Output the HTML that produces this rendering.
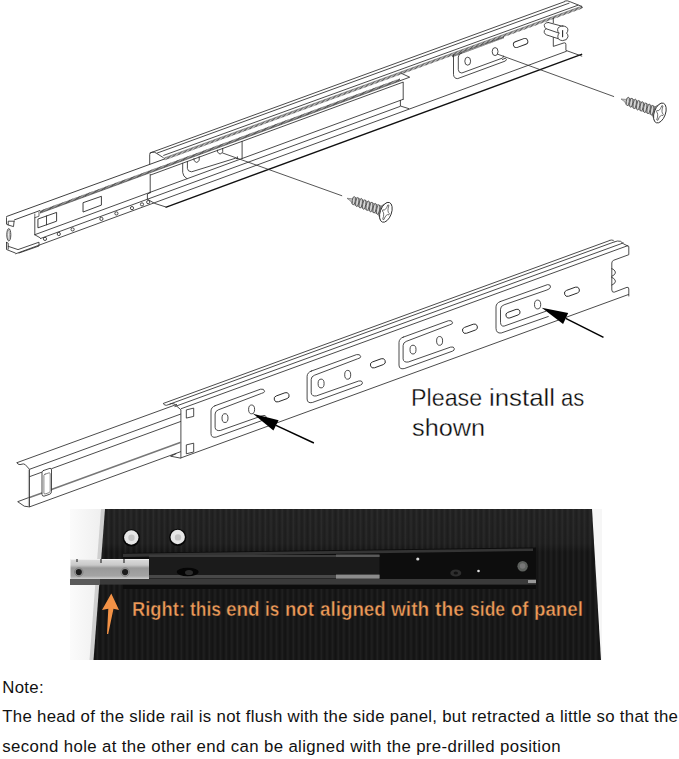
<!DOCTYPE html>
<html><head><meta charset="utf-8"><title>Slide rail install</title>
<style>
html,body{margin:0;padding:0;background:#fff;}
body{width:679px;height:759px;position:relative;overflow:hidden;font-family:"Liberation Sans",sans-serif;}
#art{position:absolute;left:0;top:0;}
.t{position:absolute;white-space:nowrap;color:#111;}
#pls{left:411.5px;top:382.6px;font-size:24.6px;line-height:30.4px;color:#0a0a0a;-webkit-text-stroke:0.32px #fff;}
#photo{position:absolute;left:70px;top:509px;width:532px;height:151px;overflow:hidden;background:#f2f2f2;}
#n1,#n2,#n3{left:2.3px;font-size:16.8px;letter-spacing:0.30px;}
#n1{top:678.1px;} #n2{top:706.8px;} #n3{top:736.8px;letter-spacing:0.38px;}
</style></head><body>
<svg id="art" width="679" height="759" viewBox="0 0 679 759">
<line x1="149.7" y1="153.1" x2="565.0" y2="1.5" stroke="#2a2a2a" stroke-width="0.85" />
<line x1="156.8" y1="153.2" x2="569.5" y2="3.0" stroke="#2a2a2a" stroke-width="0.85" />
<line x1="163.3" y1="155.5" x2="578.3" y2="5.1" stroke="#2a2a2a" stroke-width="0.85" />
<line x1="6.3" y1="216.6" x2="164.5" y2="159.0" stroke="#2a2a2a" stroke-width="0.9" />
<line x1="164.5" y1="159.1" x2="582.0" y2="7.3" stroke="#333" stroke-width="2.4" stroke-dasharray="0.7 0.6"/>
<line x1="164.5" y1="157.8" x2="582.0" y2="6.0" stroke="#555" stroke-width="0.5" />
<line x1="40.0" y1="211.9" x2="400.4" y2="79.5" stroke="#1a1a1a" stroke-width="2.3" stroke-dasharray="0.7 0.5"/>
<line x1="40.0" y1="213.2" x2="400.4" y2="80.8" stroke="#333" stroke-width="0.6" />
<line x1="14.1" y1="220.0" x2="40.0" y2="210.5" stroke="#2a2a2a" stroke-width="0.9" />
<line x1="150.3" y1="175.1" x2="403.2" y2="82.1" stroke="#2a2a2a" stroke-width="0.85" />
<line x1="34.8" y1="234.7" x2="403.2" y2="99.3" stroke="#2a2a2a" stroke-width="0.85" />
<line x1="40.0" y1="238.7" x2="400.4" y2="106.3" stroke="#2a2a2a" stroke-width="0.85" />
<line x1="15.3" y1="253.9" x2="566.7" y2="51.2" stroke="#2a2a2a" stroke-width="0.85" />
<line x1="165.6" y1="207.3" x2="582.2" y2="54.2" stroke="#111" stroke-width="1.35" />
<line x1="452.0" y1="56.4" x2="504.0" y2="37.3" stroke="#222" stroke-width="1.8" stroke-dasharray="0.6 0.45"/>
<path d="M149.7 163.9 L149.7 154.5 Q149.7 152.6 152 152.2 Q155 151.8 156.8 153.5 L163.3 157.6 M150.2 174.3 L150.2 192.7" stroke="#2a2a2a" stroke-width="0.85" fill="none" stroke-linejoin="round" stroke-linecap="round" />
<path d="M150.3 192.7 L147.4 194.0 L147.4 199.2 L154.4 203.3 L165.6 206.9" stroke="#2a2a2a" stroke-width="0.85" fill="none" stroke-linejoin="round" stroke-linecap="round" />
<path d="M182.7 163.3 L182.7 172.5 Q183 176.5 186.8 178.6" stroke="#2a2a2a" stroke-width="0.85" fill="none" stroke-linejoin="round" stroke-linecap="round" />
<path d="M187.4 161.5 L187.4 168.5 Q187.6 171.6 191.6 171.8 L235.6 158.2 L237.4 159 L237.4 156.8" stroke="#2a2a2a" stroke-width="0.85" fill="none" stroke-linejoin="round" stroke-linecap="round" />
<path d="M194.0 158.6 L194.0 160.2 Q196.6 164.6 199.2 160.2 L199.2 156.8" stroke="#2a2a2a" stroke-width="0.85" fill="none" stroke-linejoin="round" stroke-linecap="round" />
<path d="M217.5 150.2 L217.5 151.8 Q220.1 156.2 222.7 151.8 L222.7 148.4" stroke="#2a2a2a" stroke-width="0.85" fill="none" stroke-linejoin="round" stroke-linecap="round" />
<path d="M242.1 141.4 L242.1 158.5" stroke="#2a2a2a" stroke-width="0.85" fill="none" stroke-linejoin="round" stroke-linecap="round" />
<path d="M222.6 153.0 L341.8 195.7" stroke="#2a2a2a" stroke-width="0.8" fill="none" stroke-linejoin="round" stroke-linecap="round" />
<path d="M403.2 82.3 L403.2 99.5" stroke="#2a2a2a" stroke-width="0.85" fill="none" stroke-linejoin="round" stroke-linecap="round" />
<path d="M400.4 100.4 L400.4 106.0 L408.7 108.6" stroke="#2a2a2a" stroke-width="0.85" fill="none" stroke-linejoin="round" stroke-linecap="round" />
<path d="M401.5 73.4 L409.7 77.2 L400.4 80.6" stroke="#2a2a2a" stroke-width="0.85" fill="none" stroke-linejoin="round" stroke-linecap="round" />
<path d="M453.5 54.8 L453.5 74.5 Q453.8 78.6 457.7 78.6 L505.4 61.0 Q507.5 59.6 505.4 58.2 L502.4 59.5" stroke="#2a2a2a" stroke-width="0.85" fill="none" stroke-linejoin="round" stroke-linecap="round" />
<path d="M462 52.6 Q458.3 54 458.3 57.1 L458.3 69.7 Q458.6 73 461.8 73 L502.4 58.1 Q504 57 503.5 56" stroke="#2a2a2a" stroke-width="0.85" fill="none" stroke-linejoin="round" stroke-linecap="round" />
<ellipse cx="467.7" cy="61.2" rx="2.9" ry="4" transform="rotate(0 467.7 61.2)" stroke="#2a2a2a" stroke-width="0.85" fill="none"/>
<ellipse cx="495.1" cy="51.6" rx="2.9" ry="4" transform="rotate(0 495.1 51.6)" stroke="#2a2a2a" stroke-width="0.85" fill="none"/>
<rect x="513.1" y="40.0" width="15" height="6" rx="3.0" ry="3.0" transform="rotate(-20.2 520.6 43.0)" stroke="#2a2a2a" stroke-width="0.9" fill="none"/>
<path d="M497.7 54.2 L613.7 96.5" stroke="#2a2a2a" stroke-width="0.8" fill="none" stroke-linejoin="round" stroke-linecap="round" />
<path d="M565 1.0 Q567.6 0.4 569.2 1.4 L581.8 6.4 L582.3 7.6" stroke="#2a2a2a" stroke-width="0.85" fill="none" stroke-linejoin="round" stroke-linecap="round" />
<path d="M553.3 18.1 L553.3 22.8" stroke="#2a2a2a" stroke-width="0.85" fill="none" stroke-linejoin="round" stroke-linecap="round" />
<path d="M553.3 37.5 L553.3 46.4 L564.2 42.8 Q565.9 42.6 565.9 44.4 L565.9 50.4 L581.8 56.1" stroke="#2a2a2a" stroke-width="0.85" fill="none" stroke-linejoin="round" stroke-linecap="round" />
<path d="M548.3 22.5 Q544 22.8 544.3 25.6 Q544.6 27.6 546 28.7 Q543.6 30.6 544.2 32.4 Q544.8 34.2 546.5 34.9 L558.9 38.9 M548.3 22.5 L562.4 26.3 M546 28.7 L558.9 33.1" stroke="#2a2a2a" stroke-width="0.85" fill="none" stroke-linejoin="round" stroke-linecap="round" />
<path d="M562.8 26 Q567.6 26.2 567.9 29.8 Q567.8 32 566.6 33.1 Q568.2 34.6 568 36.8 Q567.2 40.6 562.6 40.6 Q558 40.2 557.8 36.8 Q557.8 34.6 559.2 33.1 Q557.4 31.6 557.6 29.6 Q558 26.2 562.8 26 Z" stroke="#2a2a2a" stroke-width="0.85" fill="#fff" stroke-linejoin="round" stroke-linecap="round" />
<path d="M562.6 30.5 L562.6 36.7" stroke="#2a2a2a" stroke-width="1.1" fill="none" stroke-linejoin="round" stroke-linecap="round" />
<path d="M6.5 217.7 L6.5 224.2 L8.2 225 L8.2 221.2 L14.1 221.2 M8.2 225 L13.5 226.6 L14.1 221.2 M6.5 242.4 L6.5 249.5 L15.3 253 M6.5 242.4 L8.2 243.2 L8.2 246.3 L18 249.6 L39 242.2 L39 246 L19 253 M8.2 246.3 L8.2 249" stroke="#2a2a2a" stroke-width="0.85" fill="none" stroke-linejoin="round" stroke-linecap="round" />
<ellipse cx="8.8" cy="234.8" rx="2.0" ry="6.2" transform="rotate(0 8.8 234.8)" stroke="#2a2a2a" stroke-width="0.85" fill="none"/>
<ellipse cx="8.6" cy="234.8" rx="0.9" ry="4.8" transform="rotate(0 8.6 234.8)" stroke="#777" stroke-width="0.6" fill="none"/>
<path d="M34.8 217.7 L34.8 234.8" stroke="#2a2a2a" stroke-width="0.85" fill="none" stroke-linejoin="round" stroke-linecap="round" />
<path d="M34.8 214.0 L34.8 217.7 L39.0 216.2 L39.0 212.4" stroke="#2a2a2a" stroke-width="0.7" fill="none" stroke-linejoin="round" stroke-linecap="round" />
<path d="M38.3 218.9 L56.6 212.4 L56.6 221.2 L38.3 227.7 Z" stroke="#2a2a2a" stroke-width="0.9" fill="none" stroke-linejoin="round" stroke-linecap="round" />
<path d="M46.5 216.0 L46.5 224.8" stroke="#2a2a2a" stroke-width="0.85" fill="none" stroke-linejoin="round" stroke-linecap="round" />
<path d="M83.4 202.6 L101.4 196.3 L101.4 205.1 L83.4 211.9 Z" stroke="#2a2a2a" stroke-width="0.9" fill="none" stroke-linejoin="round" stroke-linecap="round" />
<path d="M34.8 234.8 L40.0 237.7" stroke="#2a2a2a" stroke-width="0.85" fill="none" stroke-linejoin="round" stroke-linecap="round" />
<ellipse cx="45.0" cy="238.9" rx="1.6" ry="1.6" transform="rotate(0 45.0 238.9)" stroke="#2a2a2a" stroke-width="0.85" fill="none"/>
<ellipse cx="58.8" cy="234.0" rx="1.6" ry="1.6" transform="rotate(0 58.8 234.0)" stroke="#2a2a2a" stroke-width="0.85" fill="none"/>
<ellipse cx="72.6" cy="229.4" rx="1.6" ry="1.6" transform="rotate(0 72.6 229.4)" stroke="#2a2a2a" stroke-width="0.85" fill="none"/>
<ellipse cx="101.4" cy="218.9" rx="1.6" ry="1.6" transform="rotate(0 101.4 218.9)" stroke="#2a2a2a" stroke-width="0.85" fill="none"/>
<ellipse cx="116.4" cy="213.4" rx="1.6" ry="1.6" transform="rotate(0 116.4 213.4)" stroke="#2a2a2a" stroke-width="0.85" fill="none"/>
<ellipse cx="132.0" cy="208.1" rx="1.6" ry="1.6" transform="rotate(0 132.0 208.1)" stroke="#2a2a2a" stroke-width="0.85" fill="none"/>
<ellipse cx="142.0" cy="204.4" rx="1.6" ry="1.6" transform="rotate(0 142.0 204.4)" stroke="#2a2a2a" stroke-width="0.85" fill="none"/>
<ellipse cx="148.2" cy="202.1" rx="1.6" ry="1.6" transform="rotate(0 148.2 202.1)" stroke="#2a2a2a" stroke-width="0.85" fill="none"/>
<g transform="translate(621.0 99.0) rotate(19.8)"><path d="M0 0 L4.5 -1.2 L7 -3.6 L35 -4.4 L35 4.4 L7 3.6 L4.5 1.4 Z" fill="#c4c4c4" stroke="#555" stroke-width="0.5"/><ellipse cx="7.2" cy="0" rx="1.5" ry="4.2" transform="rotate(-12 7.2 0)" fill="#d8d8d8" stroke="#3a3a3a" stroke-width="0.75"/><ellipse cx="10.9" cy="0" rx="1.5" ry="4.5" transform="rotate(-12 10.9 0)" fill="#d8d8d8" stroke="#3a3a3a" stroke-width="0.75"/><ellipse cx="14.6" cy="0" rx="1.5" ry="4.8" transform="rotate(-12 14.6 0)" fill="#d8d8d8" stroke="#3a3a3a" stroke-width="0.75"/><ellipse cx="18.3" cy="0" rx="1.5" ry="4.8" transform="rotate(-12 18.3 0)" fill="#d8d8d8" stroke="#3a3a3a" stroke-width="0.75"/><ellipse cx="22.0" cy="0" rx="1.5" ry="4.8" transform="rotate(-12 22.0 0)" fill="#d8d8d8" stroke="#3a3a3a" stroke-width="0.75"/><ellipse cx="25.7" cy="0" rx="1.5" ry="4.8" transform="rotate(-12 25.7 0)" fill="#d8d8d8" stroke="#3a3a3a" stroke-width="0.75"/><ellipse cx="29.4" cy="0" rx="1.5" ry="4.8" transform="rotate(-12 29.4 0)" fill="#d8d8d8" stroke="#3a3a3a" stroke-width="0.75"/><ellipse cx="33.1" cy="0" rx="1.5" ry="4.8" transform="rotate(-12 33.1 0)" fill="#d8d8d8" stroke="#3a3a3a" stroke-width="0.75"/><path d="M35 -4.6 L39.5 -9.6 L39.5 9.6 L35 4.6 Z" fill="#bdbdbd" stroke="#444" stroke-width="0.6"/><ellipse cx="41.3" cy="0" rx="5.6" ry="10.4" fill="#fff" stroke="#333" stroke-width="0.9"/><path d="M40.7 -7.6 L41.9 -7.6 Q41.9 -0.9 45 0.1 L45 1.4 Q42 0.9 41.9 7.6 L40.7 7.6 Q40.6 1.0 37.6 0 L37.6 -1.3 Q40.6 -0.8 40.7 -7.6 Z" fill="#fff" stroke="#444" stroke-width="0.7" stroke-linejoin="round"/></g>
<g transform="translate(347.0 198.3) rotate(19.8)"><path d="M0 0 L4.5 -1.2 L7 -3.6 L35 -4.4 L35 4.4 L7 3.6 L4.5 1.4 Z" fill="#c4c4c4" stroke="#555" stroke-width="0.5"/><ellipse cx="7.2" cy="0" rx="1.5" ry="4.2" transform="rotate(-12 7.2 0)" fill="#d8d8d8" stroke="#3a3a3a" stroke-width="0.75"/><ellipse cx="10.9" cy="0" rx="1.5" ry="4.5" transform="rotate(-12 10.9 0)" fill="#d8d8d8" stroke="#3a3a3a" stroke-width="0.75"/><ellipse cx="14.6" cy="0" rx="1.5" ry="4.8" transform="rotate(-12 14.6 0)" fill="#d8d8d8" stroke="#3a3a3a" stroke-width="0.75"/><ellipse cx="18.3" cy="0" rx="1.5" ry="4.8" transform="rotate(-12 18.3 0)" fill="#d8d8d8" stroke="#3a3a3a" stroke-width="0.75"/><ellipse cx="22.0" cy="0" rx="1.5" ry="4.8" transform="rotate(-12 22.0 0)" fill="#d8d8d8" stroke="#3a3a3a" stroke-width="0.75"/><ellipse cx="25.7" cy="0" rx="1.5" ry="4.8" transform="rotate(-12 25.7 0)" fill="#d8d8d8" stroke="#3a3a3a" stroke-width="0.75"/><ellipse cx="29.4" cy="0" rx="1.5" ry="4.8" transform="rotate(-12 29.4 0)" fill="#d8d8d8" stroke="#3a3a3a" stroke-width="0.75"/><ellipse cx="33.1" cy="0" rx="1.5" ry="4.8" transform="rotate(-12 33.1 0)" fill="#d8d8d8" stroke="#3a3a3a" stroke-width="0.75"/><path d="M35 -4.6 L39.5 -9.6 L39.5 9.6 L35 4.6 Z" fill="#bdbdbd" stroke="#444" stroke-width="0.6"/><ellipse cx="41.3" cy="0" rx="5.6" ry="10.4" fill="#fff" stroke="#333" stroke-width="0.9"/><path d="M40.7 -7.6 L41.9 -7.6 Q41.9 -0.9 45 0.1 L45 1.4 Q42 0.9 41.9 7.6 L40.7 7.6 Q40.6 1.0 37.6 0 L37.6 -1.3 Q40.6 -0.8 40.7 -7.6 Z" fill="#fff" stroke="#444" stroke-width="0.7" stroke-linejoin="round"/></g>
<line x1="163.4" y1="403.4" x2="609.7" y2="240.5" stroke="#2a2a2a" stroke-width="0.85" />
<line x1="169.5" y1="404.2" x2="614.3" y2="241.9" stroke="#2a2a2a" stroke-width="0.85" />
<line x1="174.5" y1="406.7" x2="623.6" y2="242.8" stroke="#2a2a2a" stroke-width="0.85" />
<line x1="180.9" y1="408.8" x2="628.2" y2="245.5" stroke="#2a2a2a" stroke-width="0.85" />
<line x1="180.9" y1="457.9" x2="628.8" y2="294.4" stroke="#2a2a2a" stroke-width="0.85" />
<path d="M163.4 403.6 Q164 405.6 166.5 405.3 L171.5 403.6 Q174.5 403.2 176 405.5 L180.9 409.8 L180.9 458.2 L170.6 456.2 L176 453.8" stroke="#2a2a2a" stroke-width="0.85" fill="none" stroke-linejoin="round" stroke-linecap="round" />
<path d="M186.7 409.8 L193.7 408.1 L193.7 416.4 L186.7 418.0 Z" stroke="#2a2a2a" stroke-width="0.85" fill="none" stroke-linejoin="round" stroke-linecap="round" />
<path d="M186.7 444.8 L193.7 443.2 L193.7 452.0 L186.7 453.7 Z" stroke="#2a2a2a" stroke-width="0.85" fill="none" stroke-linejoin="round" stroke-linecap="round" />
<path d="M609.7 240.3 Q611.5 239.7 613.3 240.3 M614.3 241.9 Q617.5 240.4 620.5 241.3 L623.6 243.9 L628.8 246.5 L628.8 254.7 L613.8 260.2 Q611.8 261 611.8 263 L611.8 290 Q612 292.6 614.2 292.2 L627 287.3 Q628.8 287 628.8 289 L628.8 296" stroke="#2a2a2a" stroke-width="0.85" fill="none" stroke-linejoin="round" stroke-linecap="round" />
<path d="M611.8 268.6 Q613 268.6 615 271 Q616.4 273 613.8 275.2 L611.8 276.2 M611.8 277.4 Q613 277.4 615 279.8 Q616.4 281.8 613.8 284 L611.8 285" stroke="#2a2a2a" stroke-width="0.85" fill="none" stroke-linejoin="round" stroke-linecap="round" />
<g transform="translate(0.0 0.0)"><path d="M311.2 371.1 L356.6 354.6 Q360.2 353.8 360.7 356.7 Q360.6 358.2 357.6 358.8 L314.3 375.3 Q311.2 376.6 311.2 379.4 L311.2 392.8 Q311.6 396.6 316.4 395.9 L358.7 381 Q362 380.2 362.4 382.5 Q362.6 384.4 360.7 385 L312.3 402.5 Q307.3 403.6 307.1 399 L307.1 376.3 Q307.2 372.6 311.2 371.1 Z" stroke="#2a2a2a" stroke-width="0.85" fill="none" stroke-linejoin="round" stroke-linecap="round" /><ellipse cx="321.1" cy="383.5" rx="3" ry="4.4" transform="rotate(0 321.1 383.5)" stroke="#2a2a2a" stroke-width="0.85" fill="none"/><ellipse cx="347.7" cy="374.8" rx="3" ry="4.4" transform="rotate(0 347.7 374.8)" stroke="#2a2a2a" stroke-width="0.85" fill="none"/></g>
<g transform="translate(-96.1 34.6)"><path d="M311.2 371.1 L356.6 354.6 Q360.2 353.8 360.7 356.7 Q360.6 358.2 357.6 358.8 L314.3 375.3 Q311.2 376.6 311.2 379.4 L311.2 392.8 Q311.6 396.6 316.4 395.9 L358.7 381 Q362 380.2 362.4 382.5 Q362.6 384.4 360.7 385 L312.3 402.5 Q307.3 403.6 307.1 399 L307.1 376.3 Q307.2 372.6 311.2 371.1 Z" stroke="#2a2a2a" stroke-width="0.85" fill="none" stroke-linejoin="round" stroke-linecap="round" /><ellipse cx="321.1" cy="383.5" rx="3" ry="4.4" transform="rotate(0 321.1 383.5)" stroke="#2a2a2a" stroke-width="0.85" fill="none"/><ellipse cx="347.7" cy="374.8" rx="3" ry="4.4" transform="rotate(0 347.7 374.8)" stroke="#2a2a2a" stroke-width="0.85" fill="none"/></g>
<g transform="translate(91.9 -33.9)"><path d="M311.2 371.1 L356.6 354.6 Q360.2 353.8 360.7 356.7 Q360.6 358.2 357.6 358.8 L314.3 375.3 Q311.2 376.6 311.2 379.4 L311.2 392.8 Q311.6 396.6 316.4 395.9 L358.7 381 Q362 380.2 362.4 382.5 Q362.6 384.4 360.7 385 L312.3 402.5 Q307.3 403.6 307.1 399 L307.1 376.3 Q307.2 372.6 311.2 371.1 Z" stroke="#2a2a2a" stroke-width="0.85" fill="none" stroke-linejoin="round" stroke-linecap="round" /><ellipse cx="321.1" cy="383.5" rx="3" ry="4.4" transform="rotate(0 321.1 383.5)" stroke="#2a2a2a" stroke-width="0.85" fill="none"/><ellipse cx="347.7" cy="374.8" rx="3" ry="4.4" transform="rotate(0 347.7 374.8)" stroke="#2a2a2a" stroke-width="0.85" fill="none"/></g>
<path d="M500.2 301.6 L547.6 284.6 Q550.8 284.4 550.5 287.1 Q550 289 546.9 290 L504.1 304.8 Q500.5 306 500.5 309.2 L500.5 322.4 Q500.8 326.6 504.1 326.1 L546 311.2 M548.3 316.5 L501.2 333 Q496.2 333.6 496 328.3 L496 306.8 Q496.2 303 500.2 301.6" stroke="#2a2a2a" stroke-width="0.85" fill="none" stroke-linejoin="round" stroke-linecap="round" />
<rect x="505.6" y="310.7" width="14.7" height="5.9" rx="2.95" ry="2.95" transform="rotate(-20 513.0 313.6)" stroke="#2a2a2a" stroke-width="0.9" fill="none"/>
<ellipse cx="537.6" cy="304.5" rx="3.1" ry="4.4" transform="rotate(0 537.6 304.5)" stroke="#2a2a2a" stroke-width="0.85" fill="none"/>
<rect x="273.9" y="394.2" width="15.5" height="6.2" rx="3.1" ry="3.1" transform="rotate(-20 281.6 397.3)" stroke="#2a2a2a" stroke-width="0.9" fill="none"/>
<rect x="370.1" y="360.2" width="15.5" height="6.2" rx="3.1" ry="3.1" transform="rotate(-20 377.8 363.3)" stroke="#2a2a2a" stroke-width="0.9" fill="none"/>
<rect x="462.2" y="325.6" width="15.5" height="6.2" rx="3.1" ry="3.1" transform="rotate(-20 470.0 328.7)" stroke="#2a2a2a" stroke-width="0.9" fill="none"/>
<rect x="564.2" y="288.6" width="15.5" height="6.2" rx="3.1" ry="3.1" transform="rotate(-20 572.0 291.7)" stroke="#2a2a2a" stroke-width="0.9" fill="none"/>
<line x1="16.9" y1="462.7" x2="177.0" y2="404.3" stroke="#2a2a2a" stroke-width="0.85" />
<line x1="29.5" y1="469.3" x2="180.9" y2="414.0" stroke="#2a2a2a" stroke-width="0.85" />
<line x1="29.5" y1="476.7" x2="42.0" y2="472.1" stroke="#2a2a2a" stroke-width="0.85" />
<line x1="51.5" y1="468.7" x2="180.9" y2="421.4" stroke="#2a2a2a" stroke-width="0.85" />
<line x1="29.5" y1="497.5" x2="42.0" y2="492.9" stroke="#777" stroke-width="1.6" />
<line x1="51.5" y1="489.5" x2="180.9" y2="442.2" stroke="#777" stroke-width="1.6" />
<line x1="29.5" y1="506.9" x2="180.9" y2="451.6" stroke="#2a2a2a" stroke-width="0.85" />
<path d="M16.9 462.7 Q17.5 464.6 20 464.6 L23.3 463.9 Q25.5 464.2 26.5 466 L29.5 469.3 L29.5 506.9 L24.3 506.2 L17.7 501.7 L29.5 497.3 " stroke="#2a2a2a" stroke-width="0.85" fill="none" stroke-linejoin="round" stroke-linecap="round" />
<path d="M28.4 470 L28.4 506.4" stroke="#888" stroke-width="0.6" fill="none" stroke-linejoin="round" stroke-linecap="round" />
<path d="M43.5 470.5 L50 468.3 Q51.6 468.2 51.5 470 L51.5 491.5 Q51.3 493.6 49.8 494.2 L44 496.2 Q42.2 496.3 42 494.5 L42 472.5 Q42.2 471 43.5 470.5 Z" stroke="#2a2a2a" stroke-width="0.85" fill="none" stroke-linejoin="round" stroke-linecap="round" />
<path d="M45 474.2 L49.2 472.8 Q50.2 472.8 50.2 473.8 L50.2 491 Q50.1 492.2 49.2 492.6 L45 494 Q43.9 494 43.9 493 L43.9 475.3 Q44 474.5 45 474.2 Z" stroke="#555" stroke-width="0.7" fill="none" stroke-linejoin="round" stroke-linecap="round" />
<path d="M541.7 307.7 L568.2 312.9 L563.1 323.9 Z" fill="#000"/><line x1="565.7" y1="318.4" x2="603.5" y2="337.4" stroke="#000" stroke-width="1.5"/>
<path d="M252.8 413.6 L278.6 420.2 L273.4 430.5 Z" fill="#000"/><line x1="276.0" y1="425.4" x2="313.9" y2="443" stroke="#000" stroke-width="1.5"/>
</svg>
<div class="t" id="pls"><span style="position:absolute;left:-1.0px;top:0px;transform-origin:0 0;transform:scaleX(0.946);">Please</span><span style="position:absolute;left:77.3px;top:0px;transform-origin:0 0;transform:scaleX(1.050);">install</span><span style="position:absolute;left:149.6px;top:0px;transform-origin:0 0;transform:scaleX(0.895);">as</span><span style="position:absolute;left:0.9px;top:30.4px;transform-origin:0 0;transform:scaleX(1.028);">shown</span></div>
<div id="photo">
<svg width="532" height="151" viewBox="70 509 532 151">
<defs>
<pattern id="rib" width="5.6" height="4" patternUnits="userSpaceOnUse"><rect width="5.6" height="4" fill="#131313"/><rect x="0.6" width="1.2" height="4" fill="#1b1b1b"/><rect x="1.8" width="1.4" height="4" fill="#202020"/><rect x="3.2" width="1.0" height="4" fill="#181818"/></pattern>
<linearGradient id="tp" x1="0" x2="0" y1="0" y2="1"><stop offset="0" stop-color="#fff" stop-opacity="0.05"/><stop offset="0.8" stop-color="#fff" stop-opacity="0.04"/><stop offset="1" stop-color="#fff" stop-opacity="0"/></linearGradient>
<linearGradient id="bgl" x1="0" x2="1"><stop offset="0" stop-color="#fbfbfb"/><stop offset="1" stop-color="#ececec"/></linearGradient>
<linearGradient id="slv" x1="0" x2="0" y1="0" y2="1"><stop offset="0" stop-color="#dcdcdc"/><stop offset="0.3" stop-color="#c9c9c9"/><stop offset="0.45" stop-color="#999"/><stop offset="0.85" stop-color="#a4a4a4"/><stop offset="1" stop-color="#d0d0d0"/></linearGradient>
</defs>
<rect x="70" y="509" width="532" height="151" fill="#f6f6f6"/>
<rect x="70" y="509" width="40" height="151" fill="url(#bgl)"/>
<polygon points="101,509 105.5,509 94,660 89.5,660" fill="#cfcfcf"/>
<polygon points="105,509 592,509 601,660 93.5,660" fill="url(#rib)"/>
<polygon points="105,509 592,509 594.5,552 102,552" fill="url(#tp)"/>
<!-- rail body -->
<polygon points="123,553 536,547.5 536,589 123,589" fill="#0d0d0d"/>
<polygon points="123,553.8 533,548.4 533,551 123,557" fill="#343434"/>
<rect x="149" y="556.5" width="230.5" height="22" fill="#1b1b1b"/>
<rect x="149" y="555" width="230.5" height="2" fill="#3c3c3c"/>
<rect x="149" y="575" width="230.5" height="3.4" fill="#484848"/>
<rect x="336" y="574.6" width="43.5" height="4" fill="#8c8c8c"/><rect x="336" y="554.5" width="43.5" height="2.4" fill="#5a5a5a"/>
<rect x="70" y="579" width="466" height="5.6" fill="#3a3a3a"/>
<rect x="70" y="579" width="30" height="6" fill="#5a5a5a"/>
<rect x="528" y="580" width="8" height="3" fill="#999"/>
<ellipse cx="187.7" cy="572" rx="11" ry="4.2" fill="#050505"/>
<ellipse cx="189" cy="572.5" rx="4" ry="2.6" fill="#2c2c2c"/>
<ellipse cx="455.8" cy="573" rx="5.5" ry="3.6" fill="#2e2e2e"/><ellipse cx="455.8" cy="573" rx="2.2" ry="1.5" fill="#111"/>
<circle cx="417.8" cy="559" r="1.6" fill="#d8d8d8"/><circle cx="478.5" cy="571" r="1.3" fill="#e0e0e0"/>
<circle cx="522.6" cy="566.3" r="5.2" fill="#5d605d"/><circle cx="522.6" cy="566" r="2.8" fill="#777"/>
<!-- silver end -->
<rect x="70.5" y="559" width="78.5" height="20" fill="url(#slv)"/>
<rect x="70.5" y="559" width="78.5" height="1" fill="#eee"/>
<path d="M77 559 v3 M101 559 v4 M124 559 v4" stroke="#333" stroke-width="1.2"/>
<circle cx="78.8" cy="572.1" r="3.1" fill="#1c1c1c"/><circle cx="125.1" cy="572.1" r="3.1" fill="#1c1c1c"/>
<circle cx="78.8" cy="572.1" r="4.2" fill="none" stroke="#777" stroke-width="0.8"/><circle cx="125.1" cy="572.1" r="4.2" fill="none" stroke="#777" stroke-width="0.8"/>
<!-- white plugs -->
<circle cx="131.3" cy="537.8" r="8.6" fill="#050505"/><circle cx="131.3" cy="537.5" r="7.2" fill="#e6e6e6"/><circle cx="131.5" cy="537.8" r="3.2" fill="#c4c4c4"/>
<circle cx="177.7" cy="537.3" r="8.6" fill="#050505"/><circle cx="177.7" cy="537" r="7.2" fill="#e6e6e6"/><circle cx="178" cy="537.4" r="3.2" fill="#c4c4c4"/>
<path d="M111.3 593.5 L119 610 L113.5 608.8 L108.2 634 L107 634 L108.3 608.8 L102 610 Z" fill="#f39246"/>
</svg>
<div class="t" id="otxt" style="left:0;top:88.5px;font-size:19.9px;font-weight:bold;color:#ee9a58;-webkit-text-stroke:0.45px #1b1b1b;"><span style="position:absolute;left:61.6px;top:0;transform-origin:0 0;transform:scaleX(0.923);">Right:</span><span style="position:absolute;left:119.6px;top:0;transform-origin:0 0;transform:scaleX(0.878);">this</span><span style="position:absolute;left:156.4px;top:0;transform-origin:0 0;transform:scaleX(0.953);">end</span><span style="position:absolute;left:194.8px;top:0;transform-origin:0 0;transform:scaleX(0.858);">is</span><span style="position:absolute;left:214.6px;top:0;transform-origin:0 0;transform:scaleX(0.934);">not</span><span style="position:absolute;left:250.0px;top:0;transform-origin:0 0;transform:scaleX(0.945);">aligned</span><span style="position:absolute;left:321.2px;top:0;transform-origin:0 0;transform:scaleX(0.960);">with</span><span style="position:absolute;left:365.0px;top:0;transform-origin:0 0;transform:scaleX(0.966);">the</span><span style="position:absolute;left:399.6px;top:0;transform-origin:0 0;transform:scaleX(0.882);">side</span><span style="position:absolute;left:440.6px;top:0;transform-origin:0 0;transform:scaleX(0.921);">of</span><span style="position:absolute;left:463.8px;top:0;transform-origin:0 0;transform:scaleX(0.942);">panel</span></div>
</div>
<div class="t" id="n1">Note:</div>
<div class="t" id="n2">The head of the slide rail is not flush with the side panel, but retracted a little so that the</div>
<div class="t" id="n3">second hole at the other end can be aligned with the pre-drilled position</div>
</body></html>
